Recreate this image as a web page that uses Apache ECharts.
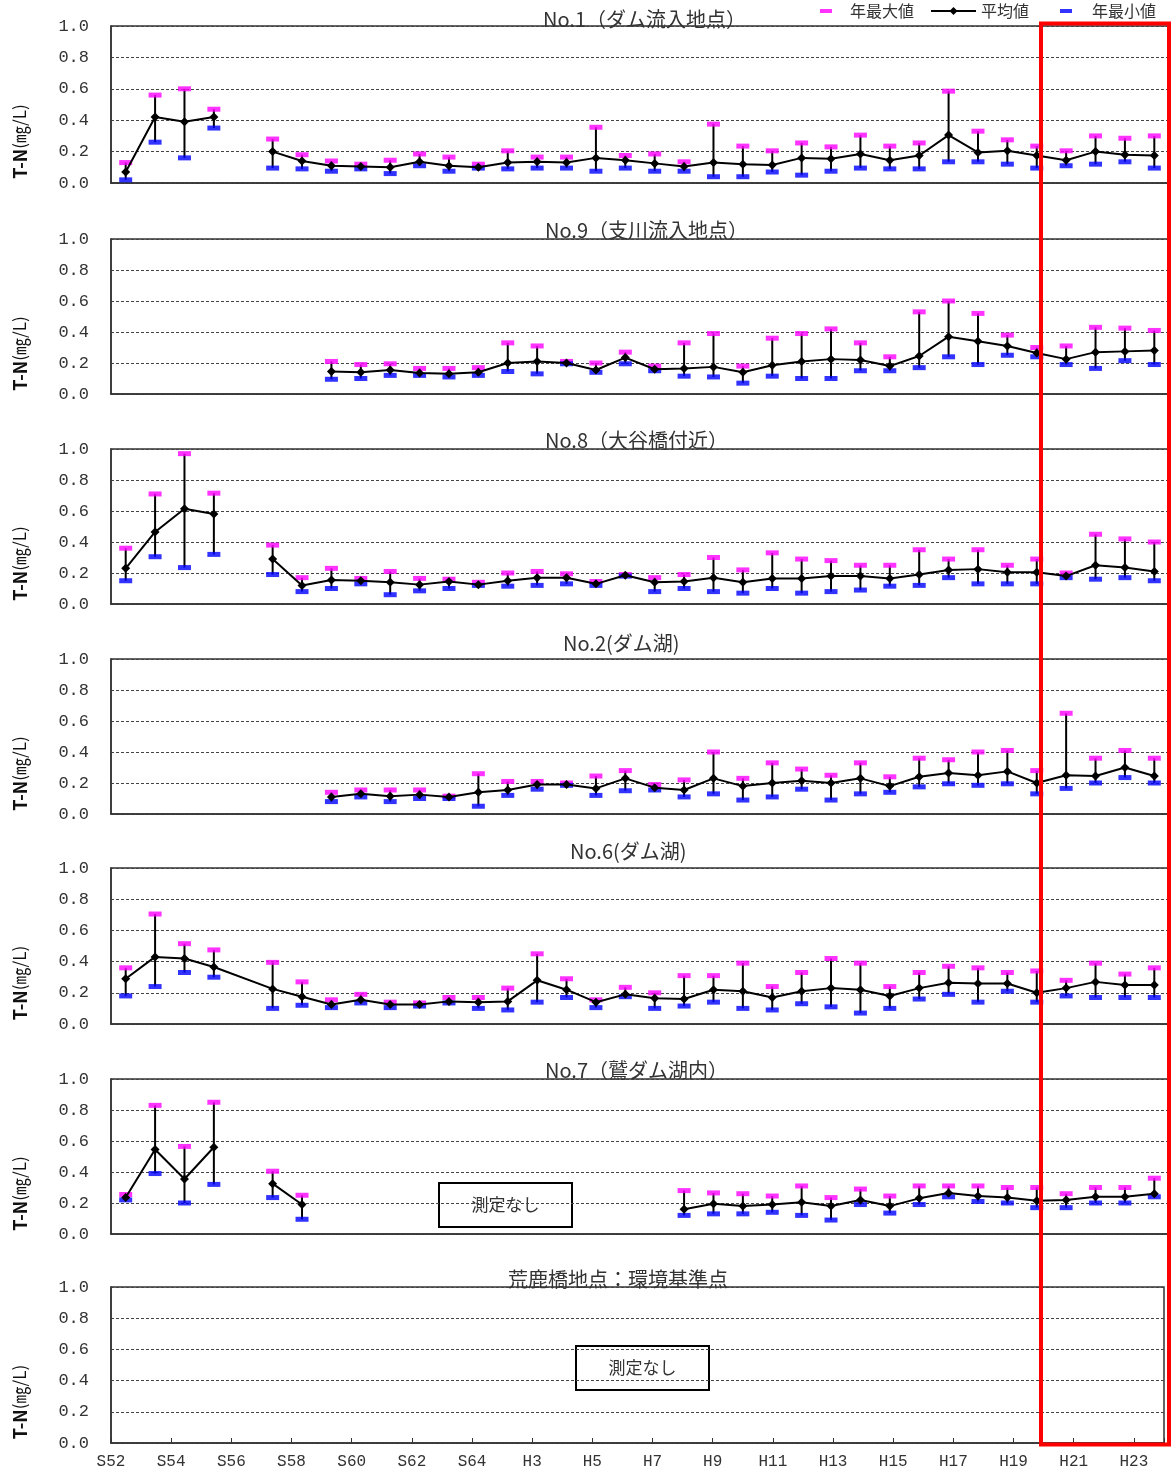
<!DOCTYPE html>
<html><head><meta charset="utf-8">
<script src="https://cdn.jsdelivr.net/npm/echarts@6/dist/echarts.min.js"></script>
<style>html,body{margin:0;padding:0;background:#fff}#c{width:1171px;height:1474px}</style>
</head><body><div id="c"></div><script>
// ---- categories (S52 .. H24) ----
const years = ['S52','S53','S54','S55','S56','S57','S58','S59','S60','S61','S62','S63','H1',
  'H2','H3','H4','H5','H6','H7','H8','H9','H10','H11','H12','H13','H14','H15','H16','H17','H18',
  'H19','H20','H21','H22','H23','H24'];
// ---- bottom axis tick labels ----
const xTickLabels = ['S52','S54','S56','S58','S60','S62','S64','H3','H5','H7','H9','H11','H13','H15','H17','H19','H21','H23'];
const yTicks = [0, 0.2, 0.4, 0.6, 0.8, 1.0];
const n = null;

// No.1（ダム流入地点）
const no1Max  = [0.13,0.56,0.60,0.47,n,0.28,0.18,0.14,0.12,0.145,0.185,0.165,0.12,0.205,0.165,0.165,0.355,0.175,0.185,0.135,0.375,0.235,0.205,0.255,0.23,0.305,0.235,0.255,0.585,0.33,0.275,0.235,0.205,0.30,0.285,0.30];
const no1Mean = [0.07,0.42,0.39,0.42,n,0.20,0.14,0.11,0.105,0.10,0.135,0.11,0.10,0.13,0.135,0.13,0.16,0.145,0.125,0.105,0.13,0.12,0.115,0.16,0.155,0.185,0.145,0.175,0.305,0.195,0.205,0.175,0.145,0.20,0.18,0.175];
const no1Min  = [0.02,0.26,0.16,0.35,n,0.095,0.09,0.075,0.09,0.06,0.11,0.075,0.095,0.09,0.095,0.095,0.075,0.095,0.075,0.075,0.04,0.04,0.07,0.05,0.075,0.095,0.09,0.09,0.135,0.135,0.12,0.095,0.11,0.12,0.135,0.095];

// No.9（支川流入地点）
const no9Max  = [n,n,n,n,n,n,n,0.21,0.19,0.195,0.165,0.165,0.17,0.33,0.31,0.21,0.20,0.27,0.18,0.33,0.39,0.18,0.36,0.39,0.42,0.33,0.24,0.53,0.60,0.52,0.38,0.30,0.31,0.43,0.425,0.41];
const no9Mean = [n,n,n,n,n,n,n,0.145,0.14,0.155,0.135,0.13,0.14,0.20,0.21,0.20,0.155,0.235,0.16,0.165,0.175,0.14,0.185,0.21,0.225,0.22,0.18,0.245,0.37,0.34,0.31,0.265,0.225,0.27,0.275,0.28];
const no9Min  = [n,n,n,n,n,n,n,0.095,0.10,0.12,0.12,0.11,0.12,0.145,0.13,0.195,0.14,0.195,0.15,0.115,0.11,0.07,0.115,0.10,0.10,0.15,0.15,0.17,0.24,0.19,0.25,0.24,0.19,0.165,0.215,0.19];

// No.8（大谷橋付近）
const no8Max  = [0.36,0.71,0.97,0.715,n,0.38,0.17,0.23,0.165,0.21,0.165,0.16,0.14,0.20,0.21,0.195,0.145,0.19,0.17,0.19,0.30,0.22,0.33,0.29,0.28,0.25,0.25,0.35,0.29,0.35,0.25,0.29,0.20,0.45,0.42,0.40];
const no8Mean = [0.23,0.465,0.615,0.58,n,0.29,0.12,0.155,0.15,0.14,0.125,0.145,0.125,0.15,0.17,0.17,0.13,0.185,0.14,0.145,0.17,0.14,0.165,0.165,0.18,0.18,0.165,0.19,0.22,0.225,0.205,0.205,0.18,0.25,0.235,0.21];
const no8Min  = [0.15,0.305,0.235,0.32,n,0.19,0.08,0.10,0.13,0.06,0.085,0.10,0.12,0.115,0.12,0.13,0.12,0.18,0.08,0.10,0.08,0.07,0.10,0.07,0.08,0.09,0.115,0.12,0.17,0.13,0.13,0.13,0.17,0.16,0.17,0.15];

// No.2(ダム湖)
const no2Max  = [n,n,n,n,n,n,n,0.14,0.155,0.155,0.155,0.115,0.26,0.21,0.21,0.20,0.245,0.28,0.19,0.22,0.40,0.23,0.33,0.29,0.25,0.33,0.24,0.36,0.35,0.40,0.41,0.28,0.65,0.36,0.41,0.36];
const no2Mean = [n,n,n,n,n,n,n,0.11,0.13,0.115,0.125,0.11,0.14,0.155,0.19,0.19,0.165,0.23,0.17,0.155,0.23,0.18,0.20,0.215,0.20,0.23,0.18,0.24,0.265,0.25,0.275,0.20,0.25,0.245,0.30,0.245];
const no2Min  = [n,n,n,n,n,n,n,0.08,0.11,0.08,0.10,0.10,0.05,0.12,0.16,0.185,0.12,0.15,0.155,0.11,0.13,0.09,0.11,0.16,0.09,0.13,0.14,0.175,0.195,0.185,0.195,0.13,0.165,0.20,0.235,0.20];

// No.6(ダム湖)
const no6Max  = [0.36,0.705,0.515,0.475,n,0.395,0.27,0.155,0.19,0.14,0.135,0.17,0.17,0.23,0.45,0.29,0.155,0.235,0.20,0.31,0.31,0.39,0.24,0.33,0.42,0.39,0.24,0.33,0.37,0.36,0.33,0.34,0.28,0.39,0.32,0.36];
const no6Mean = [0.29,0.43,0.42,0.365,n,0.225,0.175,0.125,0.155,0.125,0.125,0.145,0.14,0.145,0.28,0.22,0.14,0.19,0.165,0.16,0.22,0.21,0.17,0.21,0.23,0.22,0.18,0.23,0.265,0.26,0.26,0.20,0.23,0.27,0.25,0.25];
const no6Min  = [0.18,0.24,0.33,0.30,n,0.10,0.12,0.105,0.135,0.105,0.115,0.135,0.10,0.09,0.14,0.17,0.105,0.175,0.10,0.115,0.14,0.10,0.09,0.13,0.11,0.07,0.10,0.16,0.19,0.14,0.21,0.14,0.18,0.17,0.17,0.17];

// No.7（鷲ダム湖内）
const no7Max  = [0.255,0.83,0.565,0.85,n,0.405,0.25,n,n,n,n,n,n,n,n,n,n,n,n,0.28,0.265,0.26,0.245,0.31,0.235,0.29,0.245,0.31,0.31,0.31,0.30,0.30,0.26,0.30,0.30,0.36];
const no7Mean = [0.235,0.545,0.355,0.56,n,0.325,0.19,n,n,n,n,n,n,n,n,n,n,n,n,0.16,0.195,0.18,0.19,0.205,0.18,0.22,0.18,0.23,0.265,0.245,0.235,0.215,0.22,0.24,0.24,0.26];
const no7Min  = [0.22,0.39,0.20,0.32,n,0.235,0.095,n,n,n,n,n,n,n,n,n,n,n,n,0.12,0.13,0.13,0.14,0.12,0.09,0.19,0.135,0.19,0.24,0.21,0.20,0.17,0.17,0.20,0.20,0.24];

const panelTitles = ['No.1（ダム流入地点）','No.9（支川流入地点）','No.8（大谷橋付近）','No.2(ダム湖)','No.6(ダム湖)','No.7（鷲ダム湖内）','荒鹿橋地点：環境基準点'];
const noDataText = '測定なし';

// ---- layout ----
const FONT = '"Noto Sans CJK JP", "Noto Sans", sans-serif';
const gridTops = [26, 239, 449, 659, 868, 1079, 1287];
const gridHeights = [157, 155, 155, 155, 156, 155, 156];
const titleLeft = [543, 545, 545, 563, 570, 545, 508];
const titleTop = [8, 219, 429, 632, 840, 1059, 1268];

const panels = [
  {max:no1Max, mean:no1Mean, min:no1Min, connect:false},
  {max:no9Max, mean:no9Mean, min:no9Min, connect:false},
  {max:no8Max, mean:no8Mean, min:no8Min, connect:false},
  {max:no2Max, mean:no2Mean, min:no2Min, connect:false},
  {max:no6Max, mean:no6Mean, min:no6Min, connect:true},
  {max:no7Max, mean:no7Mean, min:no7Min, connect:false},
  null
];

const grids = [], xAxes = [], yAxes = [], series = [], titles = [];
for (let i = 0; i < 7; i++) {
  const last = i === 6;
  grids.push({left:111, top:gridTops[i], height:gridHeights[i], width: last ? 1053 : 1058,
    show:true, borderColor:'#333', borderWidth:1.5, backgroundColor:'#fff'});
  titles.push({text:panelTitles[i], left:titleLeft[i], top:titleTop[i], padding:0,
    textStyle:{fontFamily:FONT, fontSize:20, fontWeight:'normal', color:'#333', lineHeight:22}});
  if (last) {
    xAxes.push({gridIndex:i, type:'value', min:0, max:35, interval:2,
      axisLine:{show:true, lineStyle:{color:'#333', width:1.5}},
      axisTick:{show:true, inside:true, length:5, lineStyle:{color:'#333'}},
      splitLine:{show:false},
      axisLabel:{formatter:v => xTickLabels[v/2] || '', fontFamily:'"Liberation Mono", monospace', fontSize:16, color:'#333', margin:11}});
  } else {
    xAxes.push({gridIndex:i, type:'category', data:years, boundaryGap:true,
      axisLine:{show:true, lineStyle:{color:'#333', width:1.5}},
      axisTick:{show:false}, axisLabel:{show:false}, splitLine:{show:false}});
  }
  yAxes.push({gridIndex:i, type:'value', min:yTicks[0], max:yTicks[yTicks.length-1], interval:0.2,
    axisLine:{show:true, lineStyle:{color:'#333', width:1.5}}, axisTick:{show:false},
    axisLabel:{formatter:v => v.toFixed(1), fontFamily:'"Liberation Mono", monospace', fontSize:17, color:'#333', margin:22},
    splitLine:{show:true, lineStyle:{color:'#444', type:[3,2], width:1}},
    name:'{b|T-N}{m|(㎎/L)}', nameLocation:'middle', nameGap:82, nameRotate:90,
    nameTextStyle:{padding:[0,74,0,0], rich:{
      b:{fontFamily:FONT, fontSize:18, fontWeight:'bold', color:'#111'},
      m:{fontFamily:FONT, fontSize:17, color:'#111'}}}});
  const p = panels[i];
  if (!p) continue;
  const bars = [];
  p.max.forEach((mx, k) => { if (mx != null && p.min[k] != null) bars.push([k, p.min[k], mx]); });
  series.push({type:'custom', name:'range', xAxisIndex:i, yAxisIndex:i, z:2, silent:true,
    renderItem:(params, api) => {
      const a = api.coord([api.value(0), api.value(1)]);
      const b = api.coord([api.value(0), api.value(2)]);
      return {type:'line', shape:{x1:a[0], y1:a[1], x2:b[0], y2:b[1]}, style:{stroke:'#000', lineWidth:2}};
    }, encode:{x:0, y:[1,2]}, data:bars});
  series.push({type:'scatter', name:'年最大値', xAxisIndex:i, yAxisIndex:i, z:3,
    symbol:'rect', symbolSize:[13,5], itemStyle:{color:'#FF00FF'}, data:p.max});
  series.push({type:'scatter', name:'年最小値', xAxisIndex:i, yAxisIndex:i, z:3,
    symbol:'rect', symbolSize:[13,5], itemStyle:{color:'#0000FF'}, data:p.min});
  series.push({type:'line', name:'平均値', xAxisIndex:i, yAxisIndex:i, z:4,
    symbol:'diamond', symbolSize:9, connectNulls:p.connect,
    lineStyle:{color:'#000', width:2}, itemStyle:{color:'#000'}, data:p.mean});
}

const legendText = {fontFamily:FONT, fontSize:16, color:'#333'};
const option = {
  animation:false,
  backgroundColor:'#fff',
  title:titles,
  grid:grids, xAxis:xAxes, yAxis:yAxes, series:series,
  legend:[
    {left:820, top:3, padding:0, itemWidth:12, itemHeight:4, data:[{name:'年最大値', icon:'rect'}],
      textStyle:Object.assign({padding:[0,0,0,13]}, legendText)},
    {left:930, top:3, padding:0, itemWidth:45, itemHeight:10, data:['平均値'], textStyle:legendText},
    {left:1060, top:3, padding:0, itemWidth:12, itemHeight:4, data:[{name:'年最小値', icon:'rect'}],
      textStyle:Object.assign({padding:[0,0,0,15]}, legendText)}
  ],
  graphic:[
    {type:'group', left:438, top:1182, z:50, children:[
      {type:'rect', shape:{x:0, y:0, width:133, height:44}, style:{fill:'#fff', stroke:'#000', lineWidth:2}},
      {type:'text', x:66.5, y:22, style:{text:noDataText, fontFamily:FONT, fontSize:17, fill:'#333', align:'center', verticalAlign:'middle'}}
    ]},
    {type:'group', left:575, top:1345, z:50, children:[
      {type:'rect', shape:{x:0, y:0, width:133, height:44}, style:{fill:'#fff', stroke:'#000', lineWidth:2}},
      {type:'text', x:66.5, y:22, style:{text:noDataText, fontFamily:FONT, fontSize:17, fill:'#333', align:'center', verticalAlign:'middle'}}
    ]},
    {type:'rect', z:100, shape:{x:1041, y:23.5, width:128, height:1421}, style:{fill:null, stroke:'#FF0000', lineWidth:4}}
  ]
};
const chart = echarts.init(document.getElementById('c'), null, {renderer:'canvas'});
chart.setOption(option);
</script></body></html>
